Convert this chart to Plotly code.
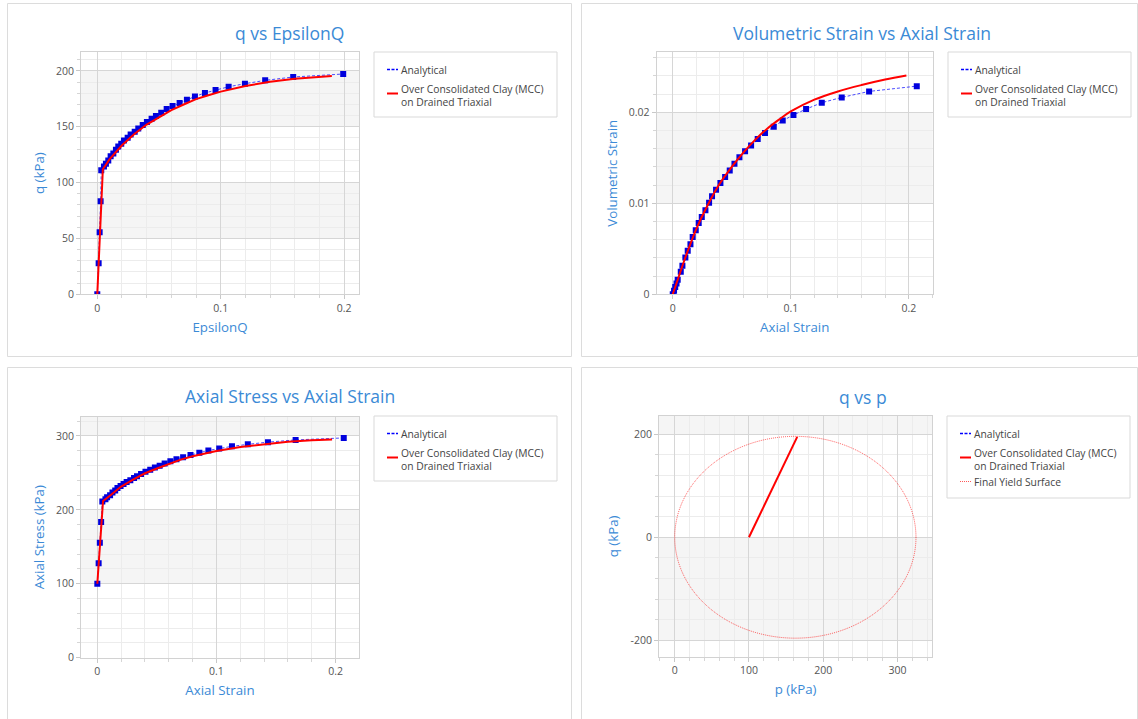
import plotly.graph_objects as go

W, H = 1138, 719

# ---------------- data ----------------
# q vs EpsilonQ
eps_q_analytical = [0, 0.0011, 0.0019, 0.0027, 0.0032, 0.0054, 0.0070, 0.0089, 0.0108, 0.0130,
                    0.0151, 0.0170, 0.0194, 0.0216, 0.0246, 0.0270, 0.0303, 0.0332, 0.0368, 0.0402,
                    0.0440, 0.0475, 0.0518, 0.0562, 0.0610, 0.0667, 0.0726, 0.0791, 0.0872, 0.0958,
                    0.1064, 0.1196, 0.1360, 0.1587, 0.1992]
q_analytical = [0, 27.8, 55.6, 83.4, 111.2, 114.4, 116.9, 119.8, 123.6, 126.1,
                129.4, 132.4, 134.8, 137.8, 140.2, 143.1, 145.6, 148.5, 151.6, 154.3,
                157.2, 159.6, 162.6, 165.9, 168.6, 171.3, 174.3, 177.2, 180.3, 183.0,
                185.9, 188.6, 191.6, 194.6, 197.3]
eps_q_numerical = [0, 0.0045, 0.01, 0.02, 0.03, 0.04, 0.05, 0.06, 0.07, 0.08, 0.09, 0.10,
                   0.12, 0.14, 0.16, 0.19]
q_numerical = [0, 112.0, 121.0, 133.5, 143.5, 152.0, 158.5, 165.0, 170.0, 174.8, 178.3, 181.5,
               186.5, 190.3, 193.0, 195.5]

# Volumetric strain vs axial strain
axial_strain_analytical = [0, 0.0011, 0.0021, 0.0032, 0.0042, 0.0068, 0.0082, 0.0107, 0.0127, 0.0150,
                           0.0169, 0.0195, 0.0220, 0.0246, 0.0277, 0.0308, 0.0333, 0.0367, 0.0404, 0.0444,
                           0.0483, 0.0523, 0.0565, 0.0613, 0.0664, 0.0720, 0.0782, 0.0856, 0.0932, 0.1023,
                           0.1130, 0.1263, 0.1432, 0.1664, 0.2068]
vol_strain_analytical = [0, 0.0004, 0.0008, 0.0012, 0.0016, 0.00248, 0.00314, 0.00405, 0.00478, 0.00551,
                         0.00631, 0.00704, 0.00785, 0.00850, 0.00923, 0.01007, 0.01077, 0.01150, 0.01223, 0.01288,
                         0.01361, 0.01434, 0.01507, 0.01573, 0.01635, 0.01708, 0.01774, 0.01843, 0.01909, 0.01971,
                         0.02036, 0.02106, 0.02164, 0.02230, 0.02288]
axial_strain_numerical_v = [0, 0.005, 0.01, 0.02, 0.03, 0.04, 0.05, 0.06, 0.07, 0.08, 0.09, 0.10,
                            0.12, 0.14, 0.16, 0.18, 0.198]
vol_strain_numerical = [0, 0.0019, 0.0038, 0.0072, 0.0099, 0.0122, 0.0140, 0.0156, 0.0170, 0.0182,
                        0.0192, 0.0201, 0.0214, 0.0223, 0.0230, 0.0236, 0.02405]

# Axial stress vs axial strain
axial_stress_analytical = [100.0, 127.8, 155.6, 183.4, 211.2, 214.4, 216.9, 219.8, 223.6, 226.1,
                           229.4, 232.4, 234.8, 237.8, 240.2, 243.1, 245.6, 248.5, 251.6, 254.3,
                           257.2, 259.6, 262.6, 265.9, 268.6, 271.3, 274.3, 277.2, 280.3, 283.0,
                           285.9, 288.6, 291.6, 294.6, 297.3]
axial_strain_numerical_s = [0, 0.0048, 0.01, 0.02, 0.03, 0.04, 0.05, 0.06, 0.07, 0.08, 0.09, 0.10,
                            0.12, 0.14, 0.16, 0.18, 0.197]
axial_stress_numerical = [100.0, 212.0, 218.5, 231.5, 241.0, 249.5, 256.0, 262.5, 268.0, 272.5,
                          276.0, 279.5, 285.0, 289.0, 292.0, 294.0, 295.3]

# q vs p
p_path = [100, 165]
q_path = [0, 195]
yield_p_bounds = [0, 325]
yield_q_bounds = [-196, 196]

# legend labels
LBL_ANA = "Analytical"
LBL_NUM = "Over Consolidated Clay (MCC)<br>on Drained Triaxial"
LBL_YIELD = "Final Yield Surface"

# ---------------- styling helpers ----------------
BLUE_TXT = "#3b8ad6"
FONT = "Open Sans"
ANA_COLOR = "#0000dd"
ANA_LINE = "rgba(30,30,255,0.8)"
NUM_COLOR = "#ff0000"
YIELD_LINE = "rgba(255,0,0,0.65)"


def px_x(x):
    return x / W


def px_y(y):
    return 1 - y / H


def axis(dom, title, rng, dtick, minor_dtick, **kw):
    d = dict(
        domain=dom, range=rng, dtick=dtick, tick0=0,
        showline=True, mirror=True, linecolor="#d2d2d2", linewidth=1,
        showgrid=True, gridcolor="#d6d6d6", gridwidth=1, zeroline=False,
        ticks="outside", ticklen=4, tickcolor="#c8c8c8",
        tickfont=dict(family=FONT, size=10.5, color="#555555"),
        minor=dict(dtick=minor_dtick, tick0=0, showgrid=True, gridcolor="#ececec",
                   ticks="outside", ticklen=3, tickcolor="#d6d6d6"),
        title=dict(text=title, font=dict(family=FONT, size=13.3, color=BLUE_TXT), standoff=8),
        automargin=False,
    )
    d.update(kw)
    return d


fig = go.Figure()


def add_analytical(x, y, xa, ya):
    fig.add_trace(go.Scatter(x=x, y=y, mode="lines", name=LBL_ANA, showlegend=False,
                             line=dict(color=ANA_LINE, width=1, dash="3px,2px"), xaxis=xa, yaxis=ya))
    fig.add_trace(go.Scatter(x=x, y=y, mode="markers", name=LBL_ANA, showlegend=False,
                             marker=dict(symbol="square", size=6, color=ANA_COLOR), xaxis=xa, yaxis=ya))


def add_numerical(x, y, xa, ya, shape="linear"):
    fig.add_trace(go.Scatter(x=x, y=y, mode="lines", name=LBL_NUM, showlegend=False,
                             line=dict(color=NUM_COLOR, width=2, shape=shape), xaxis=xa, yaxis=ya))


add_analytical(eps_q_analytical, q_analytical, "x", "y")
add_numerical(eps_q_numerical, q_numerical, "x", "y")
add_analytical(axial_strain_analytical, vol_strain_analytical, "x2", "y2")
add_numerical(axial_strain_numerical_v, vol_strain_numerical, "x2", "y2", shape="spline")
add_analytical(axial_strain_analytical, axial_stress_analytical, "x3", "y3")
add_numerical(axial_strain_numerical_s, axial_stress_numerical, "x3", "y3")
add_numerical(p_path, q_path, "x4", "y4")

# ---------------- layout ----------------
dom = {
    1: ([px_x(81), px_x(359)], [px_y(294.3), px_y(52)]),
    2: ([px_x(656.7), px_x(932.7)], [px_y(294.3), px_y(52.3)]),
    3: ([px_x(81), px_x(359)], [px_y(657.7), px_y(416.7)]),
    4: ([px_x(659), px_x(932.3)], [px_y(656.7), px_y(416)]),
}

shapes = []
annotations = []

# panel frames
for (x0, y0, x1, y1) in [(7.5, 3.5, 571.5, 356.5), (581.5, 3.5, 1137.5, 356.5),
                         (7.5, 367.5, 571.5, 730), (581.5, 367.5, 1137.5, 730)]:
    shapes.append(dict(type="rect", xref="paper", yref="paper", x0=px_x(x0), x1=px_x(x1),
                       y0=px_y(y1), y1=px_y(y0), line=dict(color="#dcdcdc", width=1),
                       fillcolor="rgba(0,0,0,0)", layer="below"))
# alternating bands
bands = [("y", 50, 100), ("y", 150, 200), ("y2", 0.01, 0.02), ("y3", 100, 200), ("y3", 300, 326),
         ("y4", -200, 0), ("y4", 200, 236)]
for ya, b0, b1 in bands:
    xa = "x" + ya[1:]
    shapes.append(dict(type="rect", xref=f"{xa} domain", yref=ya, x0=0, x1=1, y0=b0, y1=b1,
                       fillcolor="#f5f5f5", line=dict(width=0), layer="below"))
# final yield surface (ellipse in data coordinates)
shapes.append(dict(type="circle", xref="x4", yref="y4", x0=yield_p_bounds[0], x1=yield_p_bounds[1],
                   y0=yield_q_bounds[0], y1=yield_q_bounds[1],
                   line=dict(color=YIELD_LINE, width=1, dash="1px,1px"), layer="above"))

# legends (box, short symbol, text)
ana_sym = dict(color="#0000ff", width=1.3, dash="3px,1.5px")
num_sym = dict(color=NUM_COLOR, width=2)
yld_sym = dict(color=YIELD_LINE, width=1, dash="1px,1px")


def legend_box(bx, by, bw, bh, items):
    shapes.append(dict(type="rect", xref="paper", yref="paper", x0=px_x(bx), x1=px_x(bx + bw),
                       y0=px_y(by + bh), y1=px_y(by), line=dict(color="#d9d9d9", width=1),
                       fillcolor="white", layer="below"))
    for text, sym_y, txt_y, line in items:
        shapes.append(dict(type="line", xref="paper", yref="paper", x0=px_x(bx + 13), x1=px_x(bx + 24),
                           y0=px_y(by + sym_y), y1=px_y(by + sym_y), line=line, layer="above"))
        annotations.append(dict(text=text, x=px_x(bx + 25), y=px_y(by + txt_y), xref="paper", yref="paper",
                                xanchor="left", yanchor="middle", align="left", showarrow=False,
                                font=dict(family=FONT, size=10.3, color="#444444")))


items3 = [(LBL_ANA, 17.5, 18, ana_sym), (LBL_NUM, 41.5, 43, num_sym)]
items4 = items3 + [(LBL_YIELD, 65.5, 66, yld_sym)]
legend_box(374, 52, 183, 65, items3)
legend_box(948, 52, 183, 65, items3)
legend_box(374, 416, 183, 65, items3)
legend_box(947, 416, 183, 82, items4)

# panel titles
for text, cx, cy in [("q vs EpsilonQ", 289.5, 33), ("Volumetric Strain vs Axial Strain", 862, 33),
                     ("Axial Stress vs Axial Strain", 290, 396), ("q vs p", 863, 397)]:
    annotations.append(dict(text=text, x=px_x(cx), y=px_y(cy), xref="paper", yref="paper",
                            xanchor="center", yanchor="middle", showarrow=False,
                            font=dict(family=FONT, size=17.5, color=BLUE_TXT)))

fig.update_layout(
    width=W, height=H, margin=dict(l=0, r=0, t=0, b=0),
    paper_bgcolor="white", plot_bgcolor="white",
    font=dict(family=FONT),
    showlegend=False,
    xaxis=axis(dom[1][0], "EpsilonQ", [-0.0132, 0.212], 0.1, 0.02, anchor="y"),
    yaxis=axis(dom[1][1], "q (kPa)", [0, 217], 50, 10, anchor="x"),
    xaxis2=axis(dom[2][0], "Axial Strain", [-0.0136, 0.2203], 0.1, 0.02, anchor="y2"),
    yaxis2=axis(dom[2][1], "Volumetric Strain", [0, 0.0266], 0.01, 0.002, anchor="x2"),
    xaxis3=axis(dom[3][0], "Axial Strain", [-0.0137, 0.2196], 0.1, 0.02, anchor="y3"),
    yaxis3=axis(dom[3][1], "Axial Stress (kPa)", [0, 326], 100, 20, anchor="x3"),
    xaxis4=axis(dom[4][0], "p (kPa)", [-21.2, 347], 100, 20, anchor="y4"),
    yaxis4=axis(dom[4][1], "q (kPa)", [-232, 235.5], 200, 40, anchor="x4",
                tickmode="array", tickvals=[-200, 0, 200], ticktext=["-200", "0", "200"]),
    shapes=shapes,
    annotations=annotations,
)

# remove the page's default body margin so the 1138x719 figure fills the window exactly
fig.write_html(
    "out.html",
    config={"displayModeBar": False},
    post_script="document.documentElement.style.overflow='hidden';"
                "document.body.style.margin='0px';document.body.style.overflow='hidden';",
)
